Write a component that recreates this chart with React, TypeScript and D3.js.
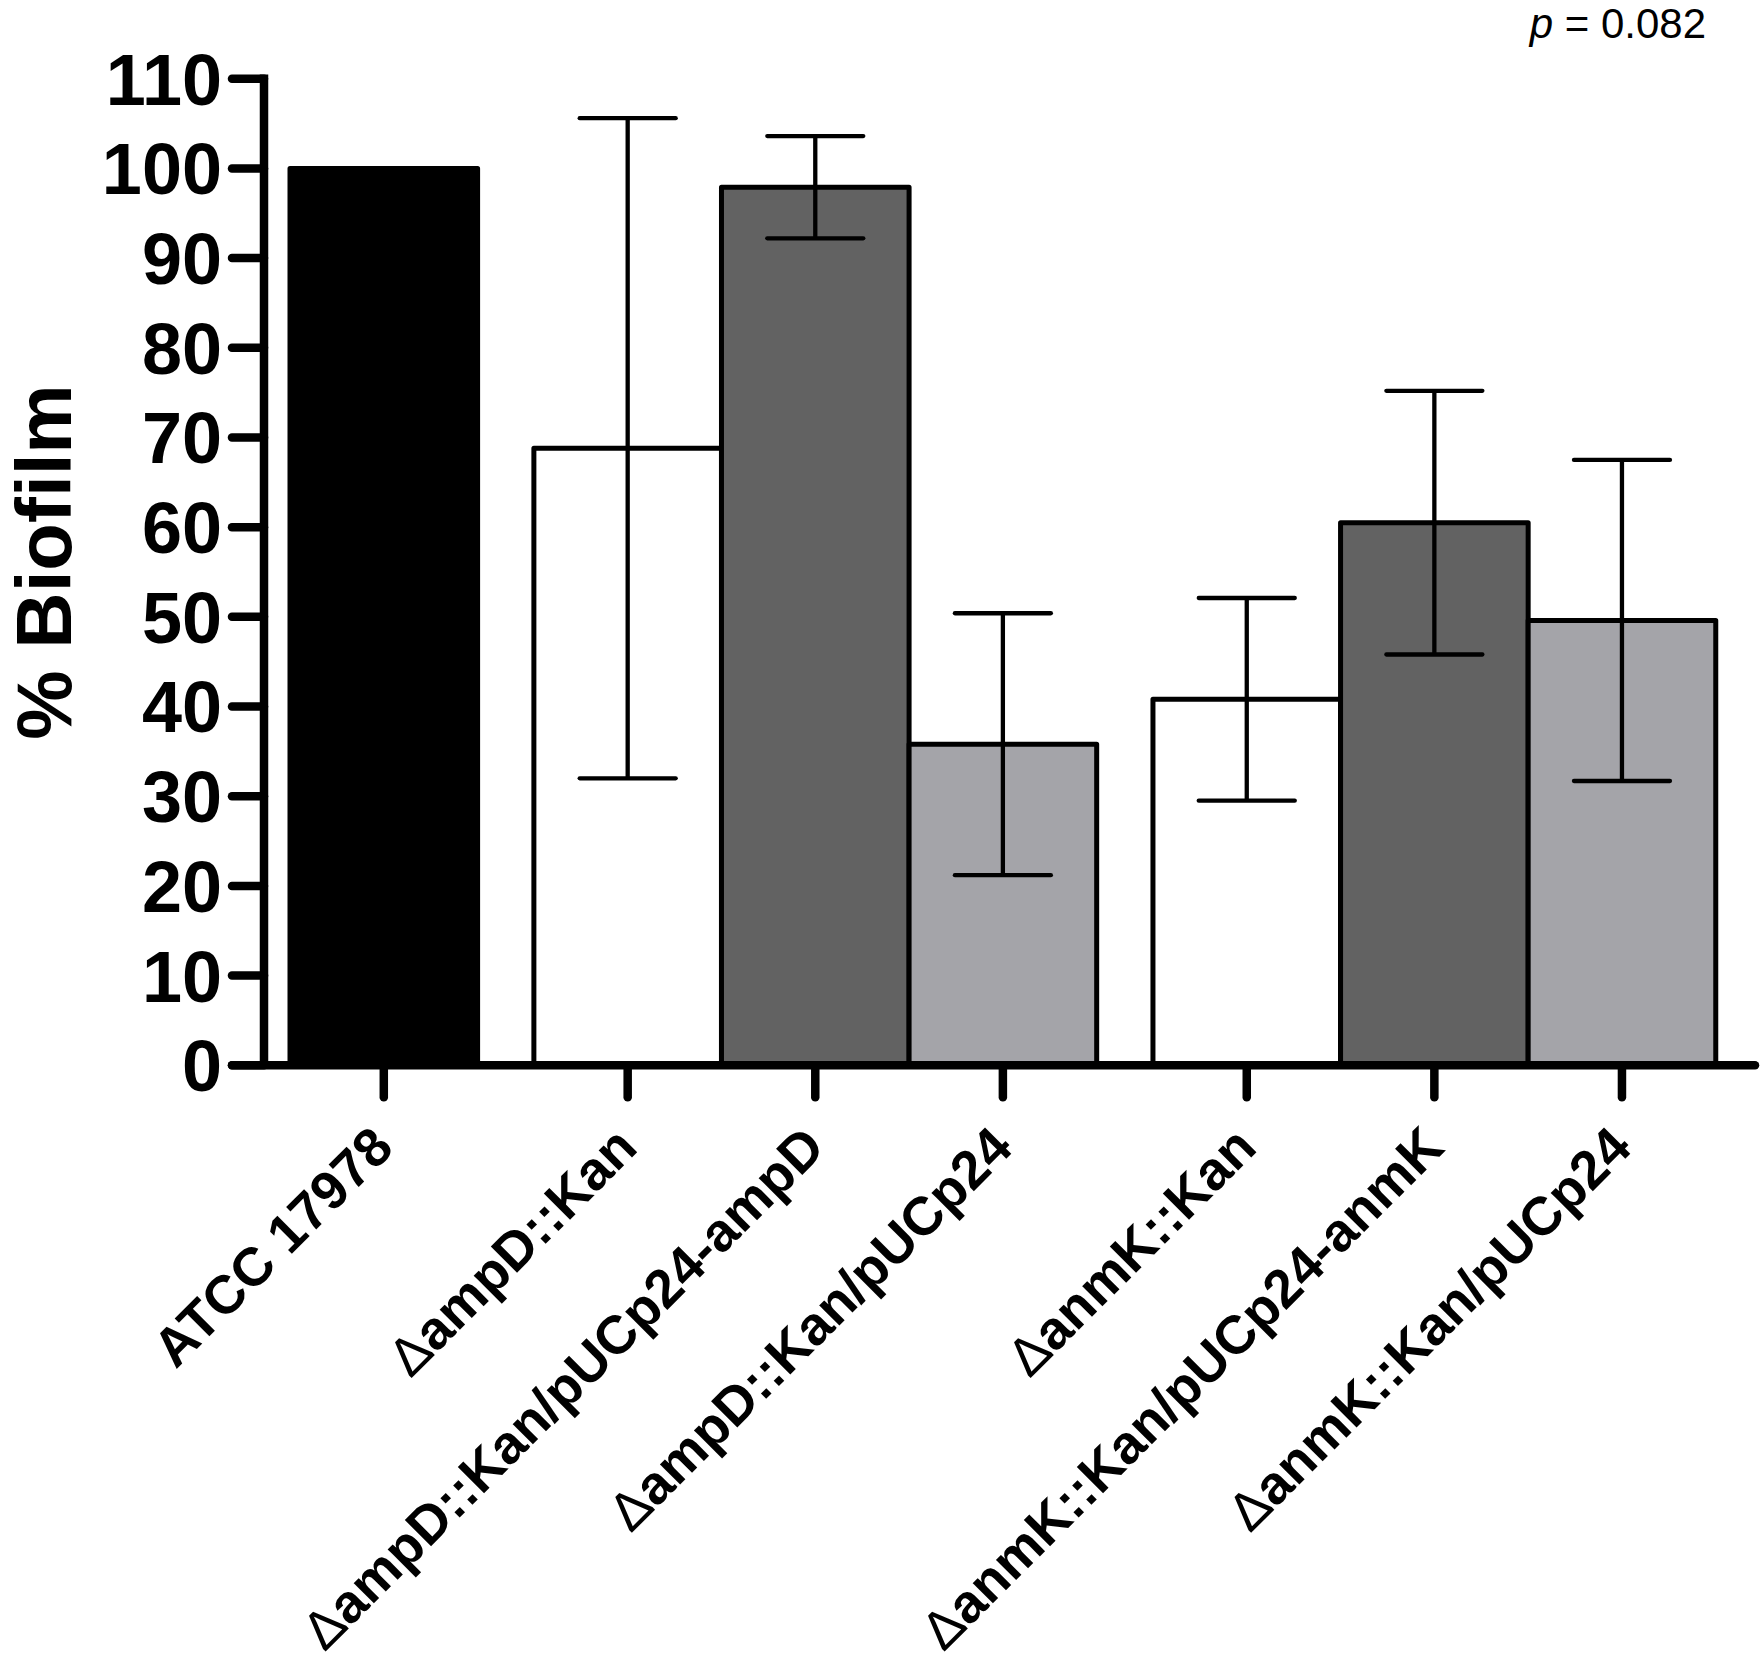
import React from "react";
import * as d3 from "d3";

const categories = [
  "ATCC 17978",
  "ΔampD::Kan",
  "ΔampD::Kan/pUCp24-ampD",
  "ΔampD::Kan/pUCp24",
  "ΔanmK::Kan",
  "ΔanmK::Kan/pUCp24-anmK",
  "ΔanmK::Kan/pUCp24",
];
const means = [100, 68.8, 97.9, 35.8, 40.8, 60.5, 49.6];
const sds = [0, 36.8, 5.7, 14.6, 11.3, 14.7, 17.9];
const fills = ["#000000", "#ffffff", "#626262", "#a4a4a9", "#ffffff", "#626262", "#a4a4a9"];
const slots = [0, 1.3, 2.3, 3.3, 4.6, 5.6, 6.6];
const yTicks = [0, 10, 20, 30, 40, 50, 60, 70, 80, 90, 100, 110];
const yTitle = "% Biofilm";
const pText = "0.082";

const W = 1762;
const H = 1663;
const FONT = "'Liberation Sans', Arial, Helvetica, sans-serif";

export default function App() {
  const y = d3.scaleLinear().domain([0, 110]).range([1065.3, 78.7]);
  const barW = 187.6;
  const x = d3.scaleLinear().domain([0, 7.6]).range([290, 290 + 7.6 * barW]);
  const axisX = 264;
  const tickLen = 32;
  const axisW = 8.5;
  const y0 = y(0);
  const xTickBottom = y0 + 32;
  const capHalf = 48;

  return (
    <svg
      width={W}
      height={H}
      viewBox={`0 0 ${W} ${H}`}
      style={{ position: "absolute", left: 0, top: 0, display: "block", background: "#fff" }}
      fontFamily={FONT}
    >
      <rect x={0} y={0} width={W} height={H} fill="#fff" />
      {/* bars */}
      {means.map((m, i) => (
        <rect
          key={"b" + i}
          x={x(slots[i])}
          y={y(m)}
          width={x(slots[i] + 1) - x(slots[i])}
          height={y0 - y(m)}
          fill={fills[i]}
          stroke="#000"
          strokeWidth={5}
          strokeLinejoin="round"
        />
      ))}
      {/* error bars */}
      {means.map((m, i) => {
        if (!sds[i]) return null;
        const cx = x(slots[i] + 0.5);
        const lo = y(m - sds[i]);
        const hi = y(m + sds[i]);
        return (
          <g key={"e" + i} stroke="#000" strokeWidth={4.3} strokeLinecap="round">
            <line x1={cx} x2={cx} y1={lo} y2={hi} strokeLinecap="butt" />
            <line x1={cx - capHalf} x2={cx + capHalf} y1={hi} y2={hi} />
            <line x1={cx - capHalf} x2={cx + capHalf} y1={lo} y2={lo} />
          </g>
        );
      })}
      {/* y axis */}
      <line x1={axisX} x2={axisX} y1={y(110) - axisW / 2} y2={y0} stroke="#000" strokeWidth={axisW} />
      {yTicks.map((t) => (
        <g key={"yt" + t}>
          <line
            x1={axisX - tickLen}
            x2={axisX}
            y1={y(t)}
            y2={y(t)}
            stroke="#000"
            strokeWidth={axisW}
            strokeLinecap="round"
          />
          <text
            x={222}
            y={y(t)}
            dy="0.36em"
            textAnchor="end"
            fontSize={72}
            fontWeight="bold"
            fill="#000"
          >
            {t}
          </text>
        </g>
      ))}
      {/* x axis */}
      <line x1={axisX - tickLen} x2={1755} y1={y0} y2={y0} stroke="#000" strokeWidth={axisW} strokeLinecap="round" />
      {categories.map((c, i) => {
        const cx = x(slots[i] + 0.5);
        const hasDelta = c.startsWith("Δ");
        return (
          <g key={"xt" + i}>
            <line
              x1={cx}
              x2={cx}
              y1={y0}
              y2={xTickBottom}
              stroke="#000"
              strokeWidth={axisW}
              strokeLinecap="round"
            />
            <text
              transform={`translate(${cx + 12},${1150}) rotate(-45)`}
              textAnchor="end"
              fontSize={54}
              fontWeight="bold"
              fill="#000"
            >
              {hasDelta ? (
                <>
                  <tspan fontWeight="normal">Δ</tspan>
                  <tspan>{c.slice(1)}</tspan>
                </>
              ) : (
                c
              )}
            </text>
          </g>
        );
      })}
      {/* y title */}
      <text
        transform={`translate(71,562) rotate(-90)`}
        textAnchor="middle"
        fontSize={78}
        fontWeight="bold"
        fill="#000"
      >
        {yTitle}
      </text>
      {/* p value */}
      <text x={1706} y={38} textAnchor="end" fontSize={42} fill="#000">
        <tspan fontStyle="italic">p</tspan>
        <tspan>{" = " + pText}</tspan>
      </text>
    </svg>
  );
}
